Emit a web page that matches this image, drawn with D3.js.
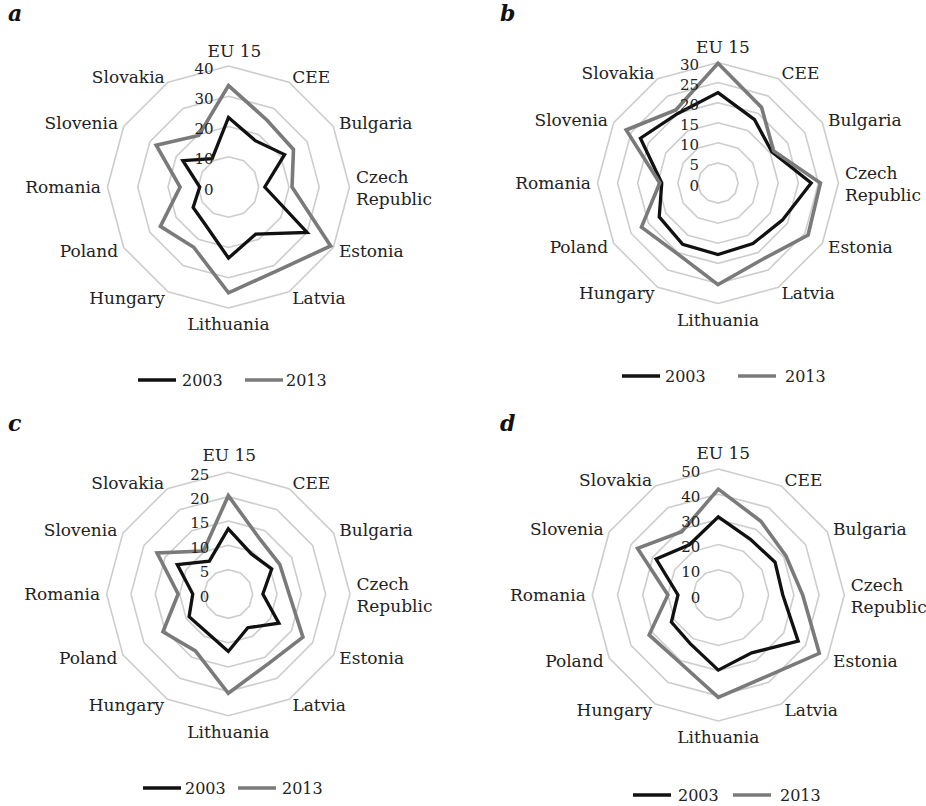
<!DOCTYPE html>
<html><head><meta charset="utf-8">
<script src="https://cdn.jsdelivr.net/npm/d3@7"></script>
<style>body{margin:0;background:#fff}svg{display:block}</style>
</head><body><svg id="chart" width="926" height="806"></svg>
<script>
const categories = ["EU 15","CEE","Bulgaria","Czech Republic","Estonia","Latvia","Lithuania","Hungary","Poland","Romania","Slovenia","Slovakia"];
const seriesNames = ["2003","2013"];
const a2003 = [23, 17.7, 21.4, 12, 30, 18, 23.5, 14.8, 13.5, 9.5, 17.4, 10.8];
const a2013 = [33.5, 25.5, 24.8, 21, 39, 32, 35, 23, 26, 16, 27.6, 19.7];
const b2003 = [22.5, 18.2, 15.5, 23.2, 18.5, 17.4, 17.8, 17.6, 16.9, 14, 22.3, 20];
const b2013 = [29.8, 21.7, 16, 25.5, 25.9, 22, 25.3, 20.3, 22, 14.5, 26.4, 21];
const c2003 = [13.4, 9.5, 10.3, 7.1, 12, 8, 11.8, 9, 9.3, 7.3, 12.1, 7.8];
const c2013 = [20.2, 13, 12.2, 12.5, 17.7, 16.5, 20.4, 13.5, 15.5, 10.3, 16.9, 10.2];
const d2003 = [31, 25.5, 26, 25.6, 36.6, 26.5, 29.8, 22.3, 21.5, 16, 28.5, 23];
const d2013 = [42, 33.8, 31, 33.5, 46.3, 37.5, 40.6, 30.8, 31.7, 20, 37, 29];
const aTicks = [0, 10, 20, 30, 40];
const bTicks = [0, 5, 10, 15, 20, 25, 30];
const cTicks = [0, 5, 10, 15, 20, 25];
const dTicks = [0, 10, 20, 30, 40, 50];
const panelLetters = ["a", "b", "c", "d"];

const panels = [
  {letter: panelLetters[0], s: [a2003, a2013], ticks: aTicks, cx: 228.5, cy: 187, R: 121, tickDx: 15, euDx: 6, euDy: 9, lx: 8, ly: 21, leg: {y: 380, x: [138, 182, 245, 286]}},
  {letter: panelLetters[1], s: [b2003, b2013], ticks: bTicks, cx: 718, cy: 183, R: 120.5, tickDx: 19, euDx: 5, euDy: 9.5, lx: 500, ly: 21, leg: {y: 376, x: [622, 665, 738, 785]}},
  {letter: panelLetters[2], s: [c2003, c2013], ticks: cTicks, cx: 228.3, cy: 594, R: 121.7, tickDx: 19, euDx: 1, euDy: 11, lx: 8, ly: 431, leg: {y: 788, x: [143, 185, 238, 282]}},
  {letter: panelLetters[3], s: [d2003, d2013], ticks: dTicks, cx: 718.3, cy: 595, R: 126, tickDx: 18, euDx: 5, euDy: 10.5, lx: 500, ly: 431, leg: {y: 795, x: [633, 678, 733, 780]}}
];

const colors = ["#111111", "#7a7a7a"];
const widths = [3.3, 3.6];
const svg = d3.select("#chart");
const FONT = "'DejaVu Serif', serif";
const n = categories.length;
const angle = d3.scaleLinear().domain([0, n]).range([0, 2 * Math.PI]);

panels.forEach(p => {
  const maxV = p.ticks[p.ticks.length - 1];
  const r = d3.scaleLinear().domain([0, maxV]).range([0, p.R]);
  const g = svg.append("g").attr("transform", `translate(${p.cx},${p.cy})`);
  const radial = d3.lineRadial().angle((d, i) => angle(i)).radius(d => r(d)).curve(d3.curveLinearClosed);

  // rings
  p.ticks.filter(t => t > 0).forEach(t => {
    g.append("path").attr("d", radial(categories.map(() => t)))
      .attr("fill", "none").attr("stroke", "#cdcdcd").attr("stroke-width", 1.6);
  });

  // series
  p.s.forEach((vals, k) => {
    g.append("path").attr("d", radial(vals))
      .attr("fill", "none").attr("stroke", colors[k]).attr("stroke-width", widths[k])
      .attr("stroke-linejoin", "miter").attr("stroke-miterlimit", 3);
  });

  // tick labels
  p.ticks.forEach(t => {
    g.append("text").attr("x", -p.tickDx).attr("y", -r(t) + 7.5)
      .attr("text-anchor", "end").attr("font-family", FONT).attr("font-size", 15)
      .attr("fill", "#222").text(t);
  });

  // category labels
  const L = p.R + 6.5;
  categories.forEach((c, i) => {
    const a = angle(i);
    const sx = Math.sin(a), sy = -Math.cos(a);
    let x = L * sx, y = L * sy, anchor;
    const t = g.append("text").attr("font-family", FONT).attr("font-size", 17).attr("fill", "#222");
    if (i === 0) { anchor = "middle"; x += p.euDx; y = -p.R - p.euDy; }
    else if (i === n / 2) { anchor = "middle"; y = p.R + 22; }
    else if (sx > 0) anchor = "start";
    else anchor = "end";
    t.attr("text-anchor", anchor);
    if (c === "Czech Republic") {
      t.append("tspan").attr("x", x).attr("y", y - 4.5).text("Czech");
      t.append("tspan").attr("x", x).attr("y", y + 18).text("Republic");
    } else {
      const yy = (i === 0 || i === n / 2) ? y : y + 6.2;
      t.attr("x", x).attr("y", yy).text(c);
    }
  });

  // panel letter
  svg.append("text").attr("x", p.lx).attr("y", p.ly)
    .attr("font-family", FONT).attr("font-size", 22).attr("font-weight", "bold")
    .attr("font-style", "italic").attr("fill", "#111").text(p.letter);

  // legend
  seriesNames.forEach((s, k) => {
    const lx = p.leg.x[k * 2], tx = p.leg.x[k * 2 + 1];
    svg.append("line").attr("x1", lx).attr("x2", lx + 38).attr("y1", p.leg.y).attr("y2", p.leg.y)
      .attr("stroke", colors[k]).attr("stroke-width", 3.6);
    svg.append("text").attr("x", tx).attr("y", p.leg.y + 5.8)
      .attr("font-family", FONT).attr("font-size", 16).attr("fill", "#222").text(s);
  });
});
</script></body></html>
